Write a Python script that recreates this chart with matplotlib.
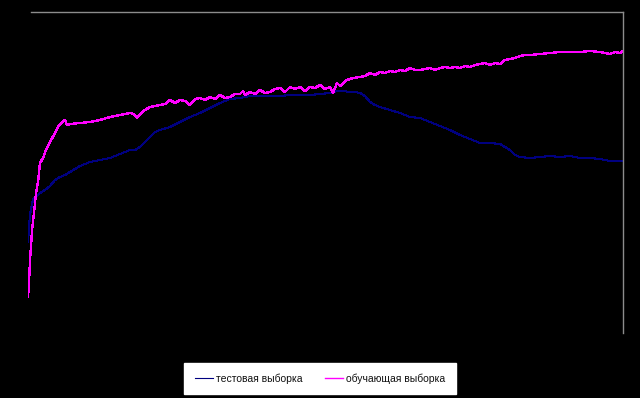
import matplotlib.pyplot as plt

# epochs and values (no axis labels, arbitrary units)
train_x = [0, 1, 2, 3, 4, 6, 8, 10, 12, 15, 18, 22, 27, 30, 35, 37, 39, 42, 52, 62,
           72, 82, 92, 102, 106, 109, 112, 117, 122, 132, 137, 142, 147, 152, 157, 162,
           167, 172, 177, 182, 187, 192, 197, 202, 207, 212, 215, 217, 222, 227, 232,
           237, 242, 247, 252, 257, 262, 267, 272, 277, 282, 287, 292, 297, 302, 305,
           309, 312, 319, 325, 332, 337, 342, 347, 352, 357, 362, 367, 372, 377, 382,
           387, 392, 397, 402, 407, 412, 417, 422, 427, 432, 437, 442, 447, 452, 457,
           462, 467, 472, 477, 482, 487, 492, 497, 502, 512, 522, 532, 542, 552, 562,
           572, 577, 582, 587, 592, 595]
train_y = [36, 50, 73, 86, 103, 120, 140, 151, 170, 175, 183, 191, 200, 206, 212, 213,
           208, 209, 210, 211, 213, 216, 218, 220, 219, 215, 219, 223, 226, 228, 229,
           233, 230, 233, 232, 228, 234, 235, 233, 236, 234, 238, 235, 236, 239, 239,
           242, 238, 241, 239, 243, 240, 241, 244, 245, 241, 246, 244, 246, 242, 246,
           245, 248, 244, 246, 240, 250, 247, 253, 255, 256, 257, 260, 258, 261, 260,
           262, 261, 263, 262, 265, 263, 263, 264, 265, 263, 265, 266, 265, 266, 265,
           267, 266, 268, 269, 270, 268, 270, 269, 273, 274, 275, 277, 278, 278, 279,
           280, 281, 281, 281, 282, 281, 280, 279, 281, 280, 282]

test_x = [0, 1, 2, 4, 5, 7, 9, 12, 17, 22, 27, 32, 37, 42, 52, 62, 72, 82, 92, 102,
          107, 112, 117, 122, 127, 132, 142, 152, 162, 172, 182, 192, 202, 212, 222,
          232, 242, 252, 262, 272, 282, 292, 302, 309, 315, 322, 327, 332, 337, 342,
          347, 352, 362, 372, 382, 392, 402, 412, 422, 432, 442, 452, 462, 472, 477,
          482, 487, 492, 502, 512, 522, 532, 542, 552, 562, 572, 582, 595]
test_y = [91, 105, 119, 128, 134, 136, 137, 140, 143, 147, 153, 156, 158, 161, 167,
          171, 173, 175, 179, 183, 183, 186, 191, 196, 201, 203, 206, 211, 216, 220,
          225, 230, 234, 235, 237, 237, 237, 237, 238, 238, 238, 239, 240, 242, 242,
          241, 241, 240, 237, 231, 228, 226, 223, 220, 216, 215, 211, 207, 203, 198,
          194, 190, 190, 189, 186, 183, 178, 176, 175, 176, 177, 176, 177, 175, 175,
          174, 172, 172]

fig = plt.figure(figsize=(6.4, 3.98), dpi=100, facecolor='black')
ax = fig.add_axes([28 / 640, 1 - 333 / 398, 595 / 640, 321 / 398])
ax.set_facecolor('black')

ax.plot(test_x, test_y, color='#000080', lw=0.8, antialiased=False,
        label='тестовая выборка')
ax.plot(train_x, train_y, color='#ff00ff', lw=1.0, antialiased=False,
        label='обучающая выборка')

ax.set_xlim(0, 595)
ax.set_ylim(0, 321)
ax.set_xticks([])
ax.set_yticks([])
for side in ['left', 'bottom']:
    ax.spines[side].set_visible(False)
for side in ['top', 'right']:
    ax.spines[side].set_color('#8c8c8c')
    ax.spines[side].set_linewidth(1.0)
ax.spines['top'].set_bounds(3, 595)

leg = fig.legend(loc='center', bbox_to_anchor=(0.5, 1 - 378.5 / 398), ncol=2,
                 frameon=True, fancybox=False, facecolor='white', edgecolor='white',
                 framealpha=1, prop={'family': 'Liberation Sans', 'size': 7.5},
                 handlelength=1.7, handletextpad=0.3, columnspacing=2.2,
                 borderpad=1.0, borderaxespad=0)
for t in leg.get_texts():
    t.set_color('#111111')

fig.savefig('out.png', dpi=100, facecolor='black')
